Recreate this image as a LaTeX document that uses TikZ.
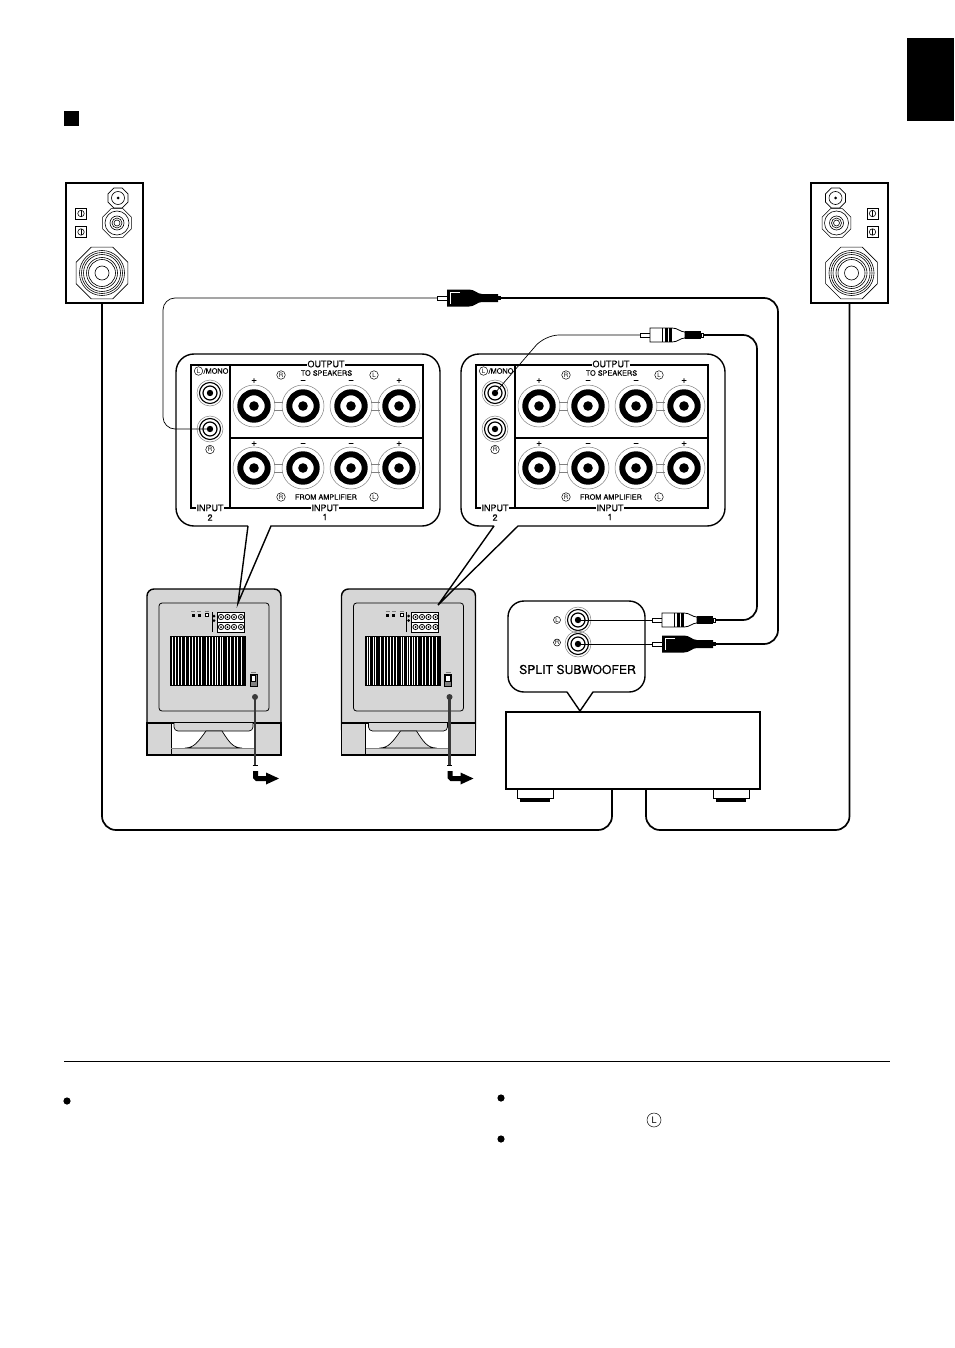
\documentclass[tikz,border=0pt]{standalone}
\usepackage{fontspec}
\setmainfont{TeX Gyre Heros}
\newfontfamily\heavyfont[FakeBold=0.35]{TeX Gyre Heros}
\definecolor{bodygray}{HTML}{D6D6D6}
\definecolor{ringgray}{HTML}{808080}
\definecolor{cordgray}{HTML}{3A3A3A}
\newcommand{\octagon}[3]{\draw (#1,#2) +(22.5:#3) -- +(67.5:#3) -- +(112.5:#3) -- +(157.5:#3)
  -- +(202.5:#3) -- +(247.5:#3) -- +(292.5:#3) -- +(337.5:#3) -- cycle;}
\tikzset{
  wire/.style={line width=0.7pt},
  cord/.style={line width=1.7pt,rounded corners=14},
  outline/.style={line width=1.4pt},
  lab/.style={font=\heavyfont\fontsize{9}{9}\selectfont,inner sep=0.6pt,fill=white},
  smalllab/.style={font=\heavyfont\fontsize{7.3}{7}\selectfont,inner sep=0.4pt},
  signlab/.style={font=\heavyfont\fontsize{10}{10}\selectfont,inner sep=0pt,text height=3pt,text depth=0pt},
  circlab/.style={circle,draw,line width=0.5pt,inner sep=0pt,minimum size=8.5pt,
    font=\fontsize{6}{6}\selectfont},
  speaker/.pic={
    \draw[line width=2pt] (-38.5,183) rectangle (38.5,303);
    \begin{scope}[line width=0.6pt]
      \octagon{14}{198}{10.8}
      \draw (14,198) circle (6.5);
      \fill (14,198) circle (1.5);
      \octagon{13}{223}{15.5}
      \foreach \r in {12,7,5,3} {\draw (13,223) circle (\r);}
      \octagon{-2}{273}{28}
      \foreach \r in {22.5,20.5,18.5,15.5,13.5} {\draw (-2,273) circle (\r);}
      \draw (-2,273) circle (7);
      \foreach \y in {213.5,232} {
        \draw (-28.5,\y-5.5) rectangle (-17.5,\y+5.5);
        \draw (-23,\y) circle (3.2);
        \draw (-23,\y-3.2) -- (-23,\y+3.2);
      }
    \end{scope}
  },
  subwoofer/.pic={
    \draw[outline,fill=bodygray,rounded corners=7] (147,730) -- (147,589) -- (281,589) -- (281,730);
    \draw[outline,fill=bodygray] (147,723) rectangle (281,755);
    \draw[line width=0.8pt,rounded corners=3] (159,603) rectangle (269,711);
    \fill[white] (171,724) rectangle (255,748);
    \draw[line width=0.7pt,fill=bodygray,rounded corners=4] (174,723) -- (174,731) -- (253,731) -- (253,723);
    \draw[line width=0.7pt,fill=bodygray] (206,731) .. controls (198,742) and (194,748) .. (185,748)
      -- (242,748) .. controls (233,748) and (229,742) .. (222,731) -- cycle;
    \draw[line width=0.8pt] (171,723) -- (171,755);
    \draw[line width=0.6pt,ringgray] (171,748) -- (255,748);
    \fill (170,636) rectangle (246,686);
    \foreach \s in {172,174.5,178,180.5,185,189,192,195,198,201,206,208.5,212,214.5,217,219.5,222,227,230,234,237,241} {
      \fill[white] (\s,637) rectangle (\s+1.1,685);
    }
    \draw[line width=0.9pt] (212,612) -- (212,632);
    \draw[line width=0.9pt,fill=white] (217,612) rectangle (244,632);
    \draw[line width=0.9pt] (217,622) -- (244,622);
    \foreach \px in {221,227.5,234,241} {\foreach \py in {617,627} {
      \draw[line width=0.8pt] (\px,\py) circle (2.6);
      \fill (\px,\py) circle (1);
    }}
    \fill (214,616) circle (1.5);
    \fill (214,620.5) circle (1.5);
    \fill (191.5,613.5) rectangle (194.5,616.5);
    \fill (197.5,613.5) rectangle (200.5,616.5);
    \draw[line width=0.8pt,fill=white] (205.5,613.5) rectangle (208.5,616.5);
    \foreach \c in {193,199,207} {\draw[line width=0.3pt,ringgray] (\c-2,611.5) -- (\c+2,611.5);}
    \draw[line width=0.8pt,fill=ringgray] (250,674) rectangle (257,686);
    \draw[line width=0.7pt,fill=white] (251.2,675.2) rectangle (255.8,681);
    \draw[line width=0.3pt,ringgray] (251,672) -- (256,672);
    \fill[cordgray] (255,697) circle (3);
    \draw[line width=2.6pt,cordgray] (255,697) -- (255,765);
    \draw[line width=0.8pt] (252.5,765) -- (257.5,765);
    \fill (253,771) -- (258,771) -- (258,776) -- (266,776) -- (266,772.5) -- (279,778.5)
      -- (266,784.5) -- (266,781) -- (256,781) -- (253,778) -- cycle;
  },
  postring/.pic={
    \draw[line width=0.5pt,ringgray] (0,0) circle (21);
    \draw[line width=6pt] (0,0) circle (13.7);
    \fill (0,0) circle (4.8);
  },
  smalljack/.pic={
    \draw[line width=0.5pt,ringgray] (0,0) circle (13);
    \draw[line width=1.1pt] (0,0) circle (10.5);
    \draw[line width=1.2pt] (0,0) circle (7);
    \fill (0,0) circle (3.2);
  },
  subpanel/.pic={
    \draw[outline] (191,365) rectangle (423,508);
    \draw[outline] (230,365) -- (230,508);
    \draw[outline] (230,438) -- (423,438);
    \foreach \px in {254,303,351,399} {
      \foreach \py in {406,468} {\pic at (\px,\py) {postring};}
    }
    \foreach \py in {406,468} {
      \foreach \px in {254,351} {
        \draw[line width=0.5pt,ringgray] (\px+20,\py-4) -- (\px+29,\py-4) (\px+20,\py+4) -- (\px+29,\py+4);
      }
    }
    \pic at (210,393) {smalljack};
    \pic at (210,429) {smalljack};
    \coordinate (-jackL) at (210,393);
    \coordinate (-jackR) at (210,429);
    \node[lab] (-output) at (326,364) {OUTPUT};
    \node[smalllab] (-speakers) at (326.5,373) {TO SPEAKERS};
    \node[smalllab] (-amplifier) at (326,497) {FROM AMPLIFIER};
    \node[lab] (-inputone) at (325,508) {INPUT};
    \node[lab] (-inputtwo) at (210,508) {INPUT};
    \node[lab,fill=none] (-one) at (325,517) {1};
    \node[lab,fill=none] (-two) at (210,517.5) {2};
    \node[smalllab] (-mono) at (216,371) {/MONO};
    \node[circlab] (-lmono) at (198.5,371) {L};
    \node[circlab] (-rjack) at (210,449.5) {R};
    \node[circlab] (-rout) at (281,375) {R};
    \node[circlab] (-lout) at (374,375) {L};
    \node[circlab] (-rin) at (281,497) {R};
    \node[circlab] (-lin) at (374,497) {L};
    \foreach \px/\s [count=\i] in {254/+,303/−,351/−,399/+} {
      \node[signlab] (-top\i) at (\px,381.5) {\s};
      \node[signlab] (-bot\i) at (\px,444.5) {\s};
    }
  },
  plugbody/.pic={
    \draw[line width=0.6pt,fill=white] (0,-1.8) rectangle (10,1.8);
    \coordinate (-tip) at (0,0);
    \coordinate (-tail) at (63,0);
  },
  whiteplug/.pic={
    \pic (-b) {plugbody};
    \draw[line width=0.8pt,fill=white] (10,-7) -- (32,-7) .. controls (38,-7) and (40,-3) .. (45,-3)
      -- (45,3) .. controls (40,3) and (38,7) .. (32,7) -- (10,7) -- cycle;
    \draw[line width=0.7pt] (22,-7) -- (22,7);
    \fill (25,-7) rectangle (27.5,7);
    \fill (29,-7) rectangle (31.5,7);
    \fill (45,-4) rectangle (61,4);
    \draw[line width=0.6pt,fill=white] (61,-1.8) rectangle (63,1.8);
  },
  blackplug/.pic={
    \pic (-b) {plugbody};
    \fill (10,-8.5) -- (32,-8.5) .. controls (38,-8.5) and (40,-4) .. (45,-4) -- (61,-4)
      -- (61,4) -- (45,4) .. controls (40,4) and (38,8.5) .. (32,8.5) -- (10,8.5) -- cycle;
    \draw[line width=0.6pt,white] (23,-6) -- (13,-6) -- (13,6);
    \draw[line width=0.6pt,fill=black] (61,-1.5) rectangle (63,1.5);
  },
}
\begin{document}
\begin{tikzpicture}[x=1pt,y=-1pt]
  \useasboundingbox (0,0) rectangle (954,1348);
  % page marks
  \fill (907,38) rectangle (954,121);
  \fill (64,111) rectangle (79,126);
  % speakers
  \pic (spkA) at (104,0) {speaker};
  \pic[xscale=-1] (spkB) at (849.5,0) {speaker};
  % cables to amplifier
  \coordinate (spkOutA) at (102,303);
  \coordinate (spkOutB) at (849.5,303);
  \coordinate (ampOutA) at (612,789);
  \coordinate (ampOutB) at (646,789);
  \draw[cord] (spkOutA) -- (102,830) -- (612,830) -- (ampOutA);
  \draw[cord] (spkOutB) -- (849.5,830) -- (646,830) -- (ampOutB);
  % amplifier
  \draw[outline,fill=white] (506,712) rectangle (760,789);
  \foreach \fx in {517,713} {
    \draw[line width=0.9pt] (\fx,789) -- (\fx,798.5) -- (\fx+36,798.5) -- (\fx+36,789);
    \fill (\fx+3,798) rectangle (\fx+33,801.5);
  }
  % subwoofers and panels
  \pic (subA) at (0,0) {subwoofer};
  \pic (subB) at (194.5,0) {subwoofer};
  \coordinate (tipA) at (238,603);
  \coordinate (tipB) at (438,605);
  \draw[outline] (248,526) -- (tipA) -- (271,526) [rounded corners=18] -- (440,526) -- (440,354)
    -- (176,354) -- (176,526) -- (248,526);
  \draw[outline] (494,526) -- (tipB) -- (518,526) [rounded corners=18] -- (725,526) -- (725,354)
    -- (461,354) -- (461,526) -- (494,526);
  \pic (panelA) at (0,0) {subpanel};
  \pic (panelB) at (285,0) {subpanel};
  % split subwoofer callout
  \draw[outline] (567,692) -- (580,711) -- (593,692) [rounded corners=16] -- (645,692) -- (645,601)
    -- (508,601) -- (508,692) -- (567,692);
  \pic (jackSubL) at (578,620) {smalljack};
  \pic (jackSubR) at (578,644) {smalljack};
  \coordinate (subL) at (578,620);
  \coordinate (subR) at (578,644);
  \node[circlab,minimum size=7pt] (labSubL) at (557,620) {L};
  \node[circlab,minimum size=7pt] (labSubR) at (557,642.5) {R};
  \node[font=\heavyfont\fontsize{12.2}{12}\selectfont,inner sep=0pt] (labSplit) at (577.5,669.5) {SPLIT SUBWOOFER};
  % plugs and leads
  \pic (plugSubL) at (652,620) {whiteplug};
  \pic (plugSubR) at (652,644) {blackplug};
  \pic (plugInL) at (640,335) {whiteplug};
  \pic (plugInR) at (437,298) {blackplug};
  \draw[cord] (plugSubL-b-tail) -- (757,620) -- (757,335) -- (plugInL-b-tail);
  \draw[cord] (plugSubR-b-tail) -- (778,644) -- (778,298) -- (plugInR-b-tail);
  \draw[wire] (subL) -- (plugSubL-b-tip);
  \draw[wire] (subR) -- (plugSubR-b-tip);
  \draw[wire,rounded corners=12] (plugInR-b-tip) -- (163,298) -- (163,429) -- (panelA-jackR);
  \draw[wire,rounded corners=14] (plugInL-b-tip) -- (545,335) -- (panelB-jackL);
  % notes below
  \draw[line width=0.6pt] (64,1061) -- (890,1061);
  \fill (67,1101) circle (3.6);
  \fill (501,1098) circle (3.6);
  \fill (501,1139) circle (3.6);
  \node[circlab,minimum size=14pt,font=\fontsize{9}{10}\selectfont] (noteL) at (654,1120) {L};
\end{tikzpicture}
\end{document}
